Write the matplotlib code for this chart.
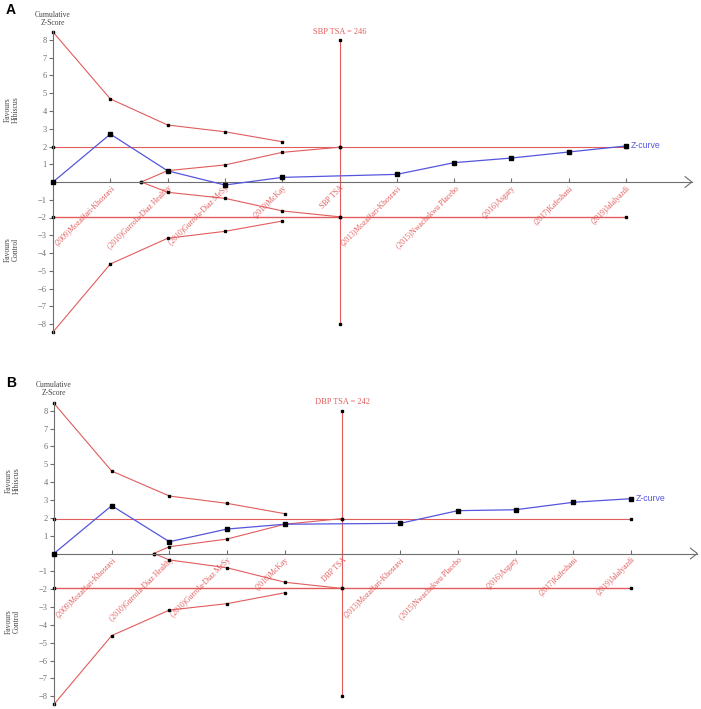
import matplotlib.pyplot as plt

plt.rcParams['font.family'] = ['Liberation Serif', 'DejaVu Serif']

# x positions: 0 = origin, 1..4 first studies, 5 = TSA, 6..10 later studies
study_labels = ["(2009)Mozaffari-Khosravi", "(2010)Gurrola-Diaz Healthy",
                "(2010)Gurrola-Diaz MeSy", "(2010)McKay", "SBP TSA",
                "(2013)Mozaffari-Khosravi", "(2015)Nwachukwu Placebo",
                "(2016)Asgary", "(2017)Kafeshani", "(2019)Jalalyazdi"]
tick_x = [1, 2, 3, 4, 5, 6, 7, 8, 9, 10]

# O'Brien-Fleming efficacy boundaries
bound_x = [0, 1, 2, 3, 4]
sbp_upper = [8.45, 4.68, 3.21, 2.83, 2.27]
sbp_lower = [-8.45, -4.62, -3.17, -2.78, -2.2]
dbp_upper = [8.41, 4.62, 3.22, 2.81, 2.23]
dbp_lower = [-8.45, -4.6, -3.17, -2.81, -2.2]

# futility (inner wedge) boundaries
sbp_fut_x = [1.54, 2, 3, 4, 5]
sbp_fut_up = [0, 0.64, 0.96, 1.67, 1.96]
sbp_fut_lo = [0, -0.58, -0.92, -1.63, -1.96]
dbp_fut_x = [1.73, 2, 3, 4, 5]
dbp_fut_up = [0, 0.38, 0.81, 1.64, 1.96]
dbp_fut_lo = [0, -0.36, -0.8, -1.61, -1.96]

# cumulative Z-curve
z_x = [0, 1, 2, 3, 4, 6, 7, 8, 9, 10]
sbp_z = [0, 2.7, 0.63, -0.17, 0.26, 0.43, 1.09, 1.35, 1.69, 2.03]
dbp_z = [0, 2.68, 0.66, 1.37, 1.64, 1.69, 2.4, 2.45, 2.87, 3.07]

RED = '#e25c5c'
BLUE = '#5555dd'
GRAY = '#6e6e6e'


def draw_panel(ax, tsa_name, tsa_n, upper, lower, fut_x, fut_up, fut_lo, z):
    ax.set_xlim(-0.4, 11.2)
    ax.set_ylim(-8.7, 9)
    for s in ['top', 'right']:
        ax.spines[s].set_visible(False)
    ax.spines['left'].set_position(('data', 0))
    ax.spines['bottom'].set_position(('data', 0))
    ax.spines['left'].set_bounds(-8.5, 8.5)
    ax.spines['bottom'].set_bounds(0, 11.15)
    ax.spines['left'].set_color(GRAY)
    ax.spines['bottom'].set_color(GRAY)
    ax.patch.set_alpha(0)

    ax.set_yticks([v for v in range(-8, 9) if v != 0])
    ax.tick_params(axis='y', direction='out', length=3, width=0.8, colors=GRAY,
                   labelsize=6, pad=1.5)
    labels = [l.replace('SBP', tsa_name) for l in study_labels]
    ax.set_xticks(tick_x)
    ax.set_xticklabels(labels, rotation=45, ha='right', rotation_mode='anchor',
                       fontsize=5.5, color=RED)
    ax.tick_params(axis='x', direction='in', length=3, width=0.8, color=GRAY, pad=1.5)
    # arrow head on x axis
    ax.plot([11.03, 11.15, 11.03], [0.3, 0, -0.3], color=GRAY, lw=0.8, clip_on=False)

    mk = dict(marker='s', ms=2, mfc='black', mec='black', clip_on=False)
    # significance lines at +-1.96
    ax.plot([0, 10], [1.96, 1.96], color=RED, lw=0.8, **mk)
    ax.plot([0, 10], [-1.96, -1.96], color=RED, lw=1.0, **mk)
    # TSA vertical line
    ax.plot([5, 5, 5, 5], [-8, -1.96, 1.96, 8], color=RED, lw=0.8, **mk)
    ax.text(5, 8.25, f'{tsa_name} TSA = {tsa_n}', color=RED, fontsize=6,
            ha='center', va='bottom')
    # boundaries
    ax.plot(bound_x, upper, color=RED, lw=0.8, **mk)
    ax.plot(bound_x, lower, color=RED, lw=0.8, **mk)
    ax.plot(fut_x, fut_up, color=RED, lw=0.8, **mk)
    ax.plot(fut_x, fut_lo, color=RED, lw=0.8, **mk)
    # Z-curve
    ax.plot(z_x, z, color=BLUE, lw=0.9, marker='s', ms=2.3, mfc='black',
            mec='black', clip_on=False, zorder=4)
    ax.text(z_x[-1] + 0.08, z[-1], 'Z-curve', color=BLUE, fontsize=6.3,
            family='Liberation Sans', ha='left', va='center')

    ax.text(0, 8.75, 'Cumulative\nZ-Score', color='#444444', fontsize=5.5,
            ha='center', va='bottom', linespacing=1.0)
    ax.text(-0.72, 4.1, 'Favours\nHibiscus', rotation=90, color='#444444',
            fontsize=5.5, ha='center', va='center', linespacing=1.0)
    ax.text(-0.72, -3.8, 'Favours\nControl', rotation=90, color='#444444',
            fontsize=5.5, ha='center', va='center', linespacing=1.0)


fig = plt.figure(figsize=(7.01, 7.09), dpi=100)
W, H = 701, 709

axA = fig.add_axes([30.1 / W, 1 - (182 + 8.7 * 17.75) / H, 664.7 / W, 17.7 * 17.75 / H])
axB = fig.add_axes([30.9 / W, 1 - (553.5 + 8.7 * 17.85) / H, 669.3 / W, 17.7 * 17.85 / H])

draw_panel(axA, 'SBP', 246, sbp_upper, sbp_lower, sbp_fut_x, sbp_fut_up, sbp_fut_lo, sbp_z)
draw_panel(axB, 'DBP', 242, dbp_upper, dbp_lower, dbp_fut_x, dbp_fut_up, dbp_fut_lo, dbp_z)

fig.text(11 / W, 1 - 9.5 / H, 'A', fontsize=10, fontweight='bold', family='Liberation Sans',
         ha='center', va='center')
fig.text(11 / W, 1 - 383 / H, 'B', fontsize=10, fontweight='bold', family='Liberation Sans',
         ha='center', va='center')

fig.savefig('out.png', dpi=100)
